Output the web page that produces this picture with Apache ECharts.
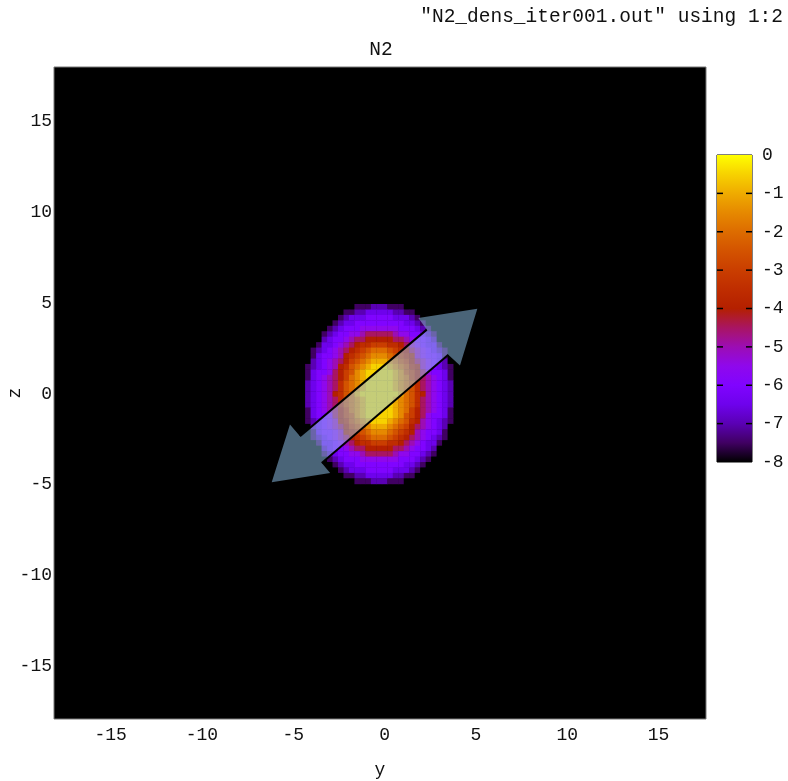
<!DOCTYPE html>
<html><head><meta charset="utf-8">
<script src="https://cdn.jsdelivr.net/npm/echarts@6/dist/echarts.min.js"></script>
<style>html,body{margin:0;padding:0;background:#fff}#c{width:788px;height:781px}</style>
</head><body><div id="c"></div>
<script>
// ---- data ----
// cell centres along the horizontal axis (y) and vertical axis (z)
const yCells = [-4.2,-3.9,-3.6,-3.3,-3.0,-2.7,-2.4,-2.1,-1.8,-1.5,-1.2,-0.9,-0.6,-0.3,
                0,0.3,0.6,0.9,1.2,1.5,1.8,2.1,2.4,2.7,3.0,3.3,3.6];
const zCells = [4.8,4.5,4.2,3.9,3.6,3.3,3.0,2.7,2.4,2.1,1.8,1.5,1.2,0.9,0.6,0.3,0,
                -0.3,-0.6,-0.9,-1.2,-1.5,-1.8,-2.1,-2.4,-2.7,-3.0,-3.3,-3.6,-3.9,-4.2,-4.5,-4.8];
// log density per cell, one char per cell: value = -(base-17 digit)/2  ('0' = 0 ... 'g' = -8)
const densityRows = [
  "gggggggggfffeeefffggggggggg",
  "gggggggffeedddddeeffggggggg",
  "ggggggfedddcccccdddefgggggg",
  "gggggfeddcccccccccddefggggg",
  "ggggfedcccbbbbbbbcccdefgggg",
  "gggfedccbba99999abbccdefggg",
  "gggedccba998888899abccdeggg",
  "ggfddcba98776667789abcddfgg",
  "gfedcba9876544456789abcdefg",
  "gfdccba8765433345678abccdfg",
  "gedcba986543222345689abcdeg",
  "fedcba875432111234578abcdef",
  "fdccb98653211111235689bccdf",
  "fdcba98643211111234689abcdf",
  "edcba97543211111234579abcde",
  "edcba97543211111234579abcde",
  "edcba87542111111124578abcde",
  "edcba97543211111234579abcde",
  "edcba97543211111234579abcde",
  "fdcba98643211111234689abcdf",
  "fdccb98653211111235689bccdf",
  "fedcba875432111234578abcdef",
  "gedcba986543222345689abcdeg",
  "gfdccba8765433345678abccdfg",
  "gfedcba9876544456789abcdefg",
  "ggfddcba98776667789abcddfgg",
  "gggedccba998888899abccdeggg",
  "gggfedccbba99999abbccdefggg",
  "ggggfedcccbbbbbbbcccdefgggg",
  "gggggfeddcccccccccddefggggg",
  "ggggggfedddcccccdddefgggggg",
  "gggggggffeedddddeeffggggggg",
  "gggggggggfffeeefffggggggggg"
];
const xTicks = [-15,-10,-5,0,5,10,15];
const zTicks = [-15,-10,-5,0,5,10,15];
const cbTicks = [0,-1,-2,-3,-4,-5,-6,-7,-8];
const cbMarks = [-1,-2,-3,-4,-5,-6,-7];
// double-headed arrow annotation, in data coordinates (y, z)
const arrowOutline = [[5.08,4.69],[1.85,4.18],[2.31,3.54],[-4.63,-2.33],[-5.18,-1.69],[-6.18,-4.86],
                      [-2.98,-4.35],[-3.44,-3.80],[3.49,2.16],[4.13,1.56]];
const arrowEdgeA = [[2.31,3.54],[-4.63,-2.33]];
const arrowEdgeB = [[3.49,2.16],[-3.44,-3.80]];

// ---- styles ----
const palette = ['#000000','#400062','#5a00b4','#6e02ec','#8004ff','#8f08ec','#9c0db4','#a91562',
                 '#b42000','#bf2d00','#ca3e00','#d35300','#dd6c00','#e68900','#efab00','#f7d200','#ffff00'];
const FONT = 'Liberation Mono';
const TXT = '#111';
const cellSize = 0.3;

const heatData = [];
densityRows.forEach((row, r) => {
  for (let c = 0; c < row.length; c++) {
    heatData.push([yCells[c], zCells[r], -parseInt(row[c], 17) / 2]);
  }
});

const chart = echarts.init(document.getElementById('c'), null, {renderer: 'canvas'});
chart.setOption({
  animation: false,
  backgroundColor: '#fff',
  textStyle: {fontFamily: FONT},
  grid: [
    {left: 54, top: 67, width: 652, height: 652, show: true, backgroundColor: '#000', borderColor: '#777', borderWidth: 1,
     containLabel: false, outerBoundsMode: 'none'},
    {left: 717, top: 155, width: 35, height: 307, show: true, backgroundColor: 'transparent', borderColor: '#000', borderWidth: 1,
     containLabel: false, outerBoundsMode: 'none'}
  ],
  xAxis: [
    {type: 'value', gridIndex: 0, min: -18.1, max: 17.6,
     axisLine: {show: false}, axisTick: {show: false}, splitLine: {show: false},
     axisLabel: {customValues: xTicks, margin: 7, fontSize: 18, color: TXT, fontFamily: FONT},
     name: 'y', nameLocation: 'middle', nameGap: 42, nameMoveOverlap: false,
     nameTextStyle: {fontSize: 18, color: TXT, fontFamily: FONT}},
    {type: 'value', gridIndex: 1, min: 0, max: 1, show: false}
  ],
  yAxis: [
    {type: 'value', gridIndex: 0, min: -17.9, max: 18.0,
     axisLine: {show: false}, axisTick: {show: false}, splitLine: {show: false},
     axisLabel: {customValues: zTicks, margin: 2, fontSize: 18, color: TXT, fontFamily: FONT},
     name: 'z', nameLocation: 'middle', nameGap: 30, nameRotate: 90, nameMoveOverlap: false,
     nameTextStyle: {fontSize: 18, color: TXT, fontFamily: FONT}},
    {type: 'value', gridIndex: 1, min: -8, max: 0, position: 'right',
     axisLine: {show: false}, splitLine: {show: false}, axisTick: {show: false},
     axisLabel: {customValues: cbTicks, margin: 10, fontSize: 18, color: TXT, fontFamily: FONT}}
  ],
  visualMap: {show: false, type: 'continuous', min: -8, max: 0, dimension: 2, seriesIndex: 0,
              inRange: {color: palette}},
  series: [
    {type: 'custom', xAxisIndex: 0, yAxisIndex: 0, clip: true, data: heatData,
     encode: {x: 0, y: 1},
     renderItem: function (params, api) {
       const p0 = api.coord([api.value(0) - cellSize / 2, api.value(1) + cellSize / 2]);
       const p1 = api.coord([api.value(0) + cellSize / 2, api.value(1) - cellSize / 2]);
       return {type: 'rect',
               shape: {x: p0[0], y: p0[1], width: p1[0] - p0[0] + 0.4, height: p1[1] - p0[1] + 0.4},
               style: {fill: api.visual('color')}};
     }},
    {type: 'custom', xAxisIndex: 0, yAxisIndex: 0, data: [[0, 0]], z: 5,
     renderItem: function (params, api) {
       const pts = arrowOutline.map(p => api.coord(p));
       return {type: 'group', children: [
         {type: 'polygon', shape: {points: pts}, style: {fill: 'rgba(148,200,240,0.5)'}},
         {type: 'polyline', shape: {points: arrowEdgeA.map(p => api.coord(p))}, style: {stroke: '#000', lineWidth: 2, fill: null}},
         {type: 'polyline', shape: {points: arrowEdgeB.map(p => api.coord(p))}, style: {stroke: '#000', lineWidth: 2, fill: null}}
       ]};
     }},
    {type: 'custom', xAxisIndex: 1, yAxisIndex: 1, data: [[0, 0]], z: 1,
     renderItem: function (params, api) {
       const a = api.coord([0, 0]);
       const b = api.coord([1, -8]);
       const stops = palette.map((c, i) => ({offset: i / (palette.length - 1), color: palette[palette.length - 1 - i]}));
       const children = [{type: 'rect', shape: {x: a[0], y: a[1], width: b[0] - a[0], height: b[1] - a[1]},
               style: {fill: new echarts.graphic.LinearGradient(0, 0, 0, 1, stops)}}];
       cbMarks.forEach(v => {
         const l = api.coord([0, v]), r = api.coord([1, v]);
         children.push({type: 'line', shape: {x1: l[0], y1: l[1], x2: l[0] + 6, y2: l[1]}, style: {stroke: '#000', lineWidth: 1.5}});
         children.push({type: 'line', shape: {x1: r[0] - 6, y1: r[1], x2: r[0], y2: r[1]}, style: {stroke: '#000', lineWidth: 1.5}});
       });
       return {type: 'group', children: children};
     }}
  ],
  graphic: [
    {type: 'text', x: 783, y: 17, style: {text: '"N2_dens_iter001.out" using 1:2', align: 'right', verticalAlign: 'middle',
      font: '19.5px "' + FONT + '"', fill: TXT}},
    {type: 'text', x: 381, y: 50, style: {text: 'N2', align: 'center', verticalAlign: 'middle',
      font: '19.5px "' + FONT + '"', fill: TXT}}
  ]
});
</script></body></html>
